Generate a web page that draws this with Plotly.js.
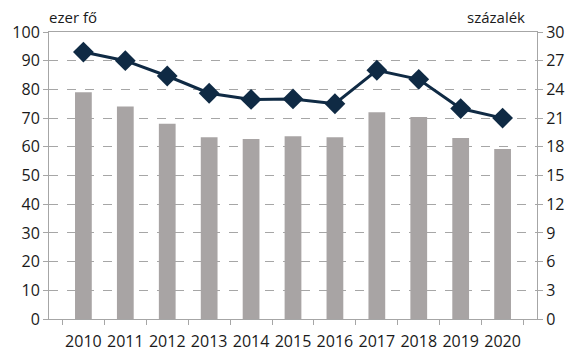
<!DOCTYPE html>
<html><head><meta charset="utf-8">
<script src="https://cdn.plot.ly/plotly-3.0.1.min.js"></script>
<style>html,body{margin:0;padding:0;background:#fff}#c{width:576px;height:354px}</style>
</head><body><div id="c"></div>
<script>
const years = ['2010','2011','2012','2013','2014','2015','2016','2017','2018','2019','2020'];
const ezerFo = [79, 74, 68, 63.3, 62.7, 63.7, 63.3, 72, 70.4, 63.1, 59.2];
const szazalek = [27.9, 27.0, 25.4, 23.6, 22.95, 23.0, 22.5, 26.0, 25.05, 22.0, 21.0];
const leftTicks = [0,10,20,30,40,50,60,70,80,90,100];
const rightTicks = [0,3,6,9,12,15,18,21,24,27,30];

const font = {family: 'Open Sans, sans-serif', size: 16, color: '#1a1a1a'};
const data = [
  {type: 'bar', x: years, y: ezerFo, marker: {color: '#a8a4a4'}, yaxis: 'y', hoverinfo: 'none'},
  {type: 'scatter', mode: 'lines+markers', x: years, y: szazalek, yaxis: 'y2',
   line: {color: '#0f2a44', width: 3},
   marker: {symbol: 'diamond', size: 16, color: '#0f2a44'}, hoverinfo: 'none'}
];
const layout = {
  width: 576, height: 354,
  margin: {l: 49, r: 39, t: 32, b: 35},
  paper_bgcolor: '#fff', plot_bgcolor: '#fff',
  showlegend: false, bargap: 0.6,
  font: font,
  xaxis: {type: 'category', showline: true, linecolor: '#a6a6a6', linewidth: 1, mirror: true,
    ticks: 'outside', tickson: 'boundaries', ticklen: 5, tickcolor: '#a6a6a6',
    showgrid: false, tickfont: {family: 'Open Sans, sans-serif', size: 16, color: '#1a1a1a'},
    tickangle: 0, ticklabelstandoff: 8, fixedrange: true},
  yaxis: {range: [0, 100], tickvals: leftTicks, ticktext: leftTicks.map(String),
    showline: true, linecolor: '#a6a6a6', ticks: 'outside', ticklen: 5, tickcolor: '#a6a6a6',
    showgrid: true, gridcolor: '#a6a6a6', griddash: 'dash', gridwidth: 1,
    zeroline: false, tickfont: font},
  yaxis2: {range: [0, 30], tickvals: rightTicks, ticktext: rightTicks.map(String),
    overlaying: 'y', side: 'right', showline: true, linecolor: '#a6a6a6',
    ticks: 'outside', ticklen: 5, tickcolor: '#a6a6a6', showgrid: false, zeroline: false,
    tickfont: font},
  annotations: [
    {text: 'ezer fő', xref: 'paper', yref: 'paper', x: 0, y: 1, xanchor: 'left', yanchor: 'bottom',
     xshift: -2, yshift: 3, showarrow: false, font: {family: 'Open Sans, sans-serif', size: 15, color: '#1a1a1a'}},
    {text: 'százalék', xref: 'paper', yref: 'paper', x: 1, y: 1, xanchor: 'right', yanchor: 'bottom',
     xshift: -10, yshift: 3, showarrow: false, font: {family: 'Open Sans, sans-serif', size: 15, color: '#1a1a1a'}}
  ]
};
Plotly.newPlot('c', data, layout, {staticPlot: true});
</script></body></html>
